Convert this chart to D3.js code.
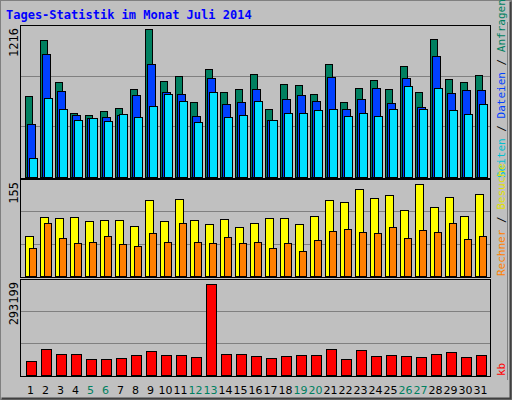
<!DOCTYPE html>
<html><head><meta charset="utf-8">
<script src="https://cdn.jsdelivr.net/npm/d3@7"></script>
<style>body{margin:0;background:#fff}</style>
</head><body>
<script>
// Tages-Statistik Juli 2014 (Webalizer)
const days = d3.range(1, 32)
const weekend = [5, 6, 12, 13, 19, 20, 26, 27]
const anfragen = [663,1125,779,523,506,539,564,721,1216,787,828,613,886,696,721,845,556,762,754,680,927,613,729,795,721,911,696,1133,803,779,836]
const dateien  = [432,1010,704,506,481,490,506,671,927,696,679,498,811,597,613,721,465,638,671,622,820,556,638,729,605,811,572,993,688,712,712]
const seiten   = [160,646,556,465,481,457,514,490,580,679,622,448,696,490,506,622,465,523,523,547,556,498,523,498,556,745,556,729,547,514,597]
const besuche  = [67,99,98,99,93,94,94,84,128,93,130,94,88,96,83,89,98,98,88,101,128,125,147,131,136,111,155,116,133,101,138]
const rechner  = [47,89,64,56,57,67,54,51,72,57,89,57,56,66,56,57,47,56,42,61,76,79,74,72,83,64,78,74,89,62,67]
const kb = [45100,83800,67700,67700,51600,51600,54800,64400,77300,64400,64400,58000,293199,67700,67700,61200,54800,61200,64400,64400,83800,51600,80500,61200,64400,61200,58000,67700,74100,58000,64400]

const W = 512, H = 400
const svg = d3.select('body').append('svg').attr('width', W).attr('height', H)
	.style('font-family', '"DejaVu Sans Mono", monospace')

// background + 3d frame
svg.append('rect').attr('width', W).attr('height', H).attr('fill', '#c0c0c0')
svg.append('rect').attr('x', 0.5).attr('y', 0.5).attr('width', W - 1).attr('height', H - 1)
	.attr('fill', 'none').attr('stroke', '#808080')
svg.append('path').attr('d', 'M1.5,398.5H510.5V1.5').attr('fill', 'none').attr('stroke', '#404040').attr('stroke-width', 2)
svg.append('text').attr('x', 6).attr('y', 19).attr('fill', '#0000ff')
	.attr('font-weight', 'bold').attr('font-size', 12).text('Tages-Statistik im Monat Juli 2014')

const x = d3.scaleBand().domain(days).range([20, 485])

const panels = [
	{ top: 25, base: 177, maxY: 29, max: 1216, label: '1216' },
	{ top: 179, base: 276, maxY: 184, max: 155, label: '155' },
	{ top: 279, base: 375, maxY: 284, max: 293199, label: '293199' }
]
panels.forEach(p => {
	p.y = d3.scaleLinear().domain([0, p.max]).range([p.base, p.maxY])
	svg.append('rect').attr('x', 20.5).attr('y', p.top + 0.5).attr('width', 470).attr('height', p.base - p.top + 1)
		.attr('fill', '#c0c0c0').attr('stroke', '#000')
	const step = (p.base - p.top) / 3
	;[1, 2].forEach(k => svg.append('line').attr('x1', 21).attr('x2', 490)
		.attr('y1', Math.round(p.base - step * k) + 0.5).attr('y2', Math.round(p.base - step * k) + 0.5)
		.attr('stroke', '#808080'))
	svg.append('text').attr('transform', `translate(18,${p.top + 3}) rotate(-90)`)
		.attr('text-anchor', 'end').attr('font-size', 12).text(p.label)
})

function bars(p, data, off, w, color) {
	svg.append('g').selectAll('rect').data(data).enter().append('rect')
		.attr('x', (d, i) => x(days[i]) + off + 0.5)
		.attr('y', d => Math.round(p.y(d)) + 0.5)
		.attr('width', w)
		.attr('height', d => p.base - Math.round(p.y(d)))
		.attr('fill', color).attr('stroke', '#000')
}
bars(panels[0], anfragen, 5, 7, '#008060')
bars(panels[0], dateien, 7, 8, '#0040ff')
bars(panels[0], seiten, 9, 8, '#00e0ff')
bars(panels[1], besuche, 5, 8, '#ffff00')
bars(panels[1], rechner, 9, 7, '#ff8000')
bars(panels[2], kb, 6, 10, '#ff0000')

// day labels
svg.append('g').selectAll('text').data(days).enter().append('text')
	.attr('x', d => x(d) + x.bandwidth() / 2 + 3).attr('y', 394)
	.attr('text-anchor', 'middle').attr('font-size', 11)
	.attr('font-family', '"DejaVu Sans", sans-serif')
	.attr('fill', d => weekend.includes(d) ? '#008060' : '#000').text(d => d)

// right side legends
function legend(yBottom, parts) {
	const t = svg.append('text').attr('transform', `translate(505,${yBottom}) rotate(-90)`)
		.attr('font-size', 11)
	parts.forEach(([s, c]) => t.append('tspan').attr('fill', c).text(s))
}
svg.append('line').attr('x1', 507.5).attr('x2', 507.5).attr('y1', 22).attr('y2', 380).attr('stroke', '#808080')
legend(178, [['Seiten', '#00c0d0'], [' / ', '#000'], ['Dateien', '#0040ff'], [' / ', '#000'], ['Anfragen', '#008060']])
legend(276, [['Rechner', '#ff8000'], [' / ', '#000'], ['Besuche', '#e0e000']])
legend(376, [['kb', '#ff0000']])
</script>
</body></html>
